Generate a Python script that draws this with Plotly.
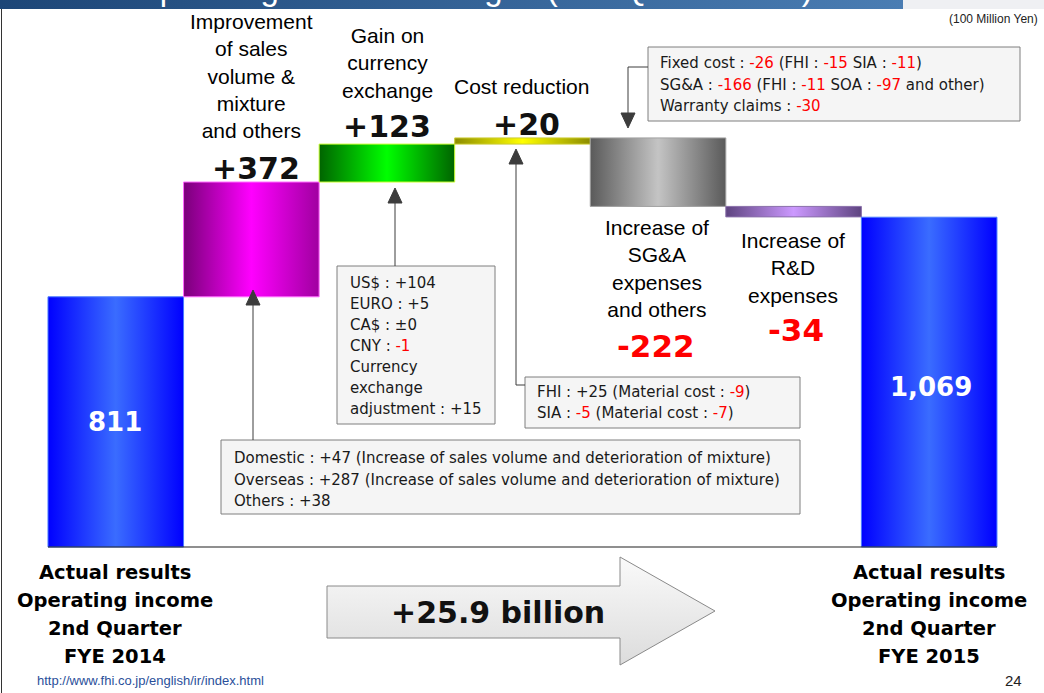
import plotly.graph_objects as go

W, H = 1044, 693

# ---------------- data ----------------
categories = ["Actual results 2Q FYE 2014", "Sales volume & mixture", "Currency exchange",
              "Cost reduction", "SG&A and others", "R&D expenses", "Actual results 2Q FYE 2015"]
values = [811, 372, 123, 20, -222, -34, 1069]
kinds = ["total", "relative", "relative", "relative", "relative", "relative", "total"]
value_labels = ["811", "+372", "+123", "+20", "-222", "-34", "1,069"]
driver_labels = ["",
                 "Improvement<br>of sales<br>volume &<br>mixture<br>and others",
                 "Gain on<br>currency<br>exchange",
                 "Cost reduction",
                 "Increase of<br>SG&A<br>expenses<br>and others",
                 "Increase of<br>R&D<br>expenses",
                 ""]
total_change_label = "+25.9 billion"
period_labels = [["Actual results", "Operating income", "2nd Quarter", "FYE 2014"],
                 ["Actual results", "Operating income", "2nd Quarter", "FYE 2015"]]

# ---------------- styles ----------------
bar_gradients = [
    ["#0000ff", "#3a6cff", "#0000ff"],
    ["#7a007a", "#ff00ff", "#a000a0"],
    ["#006400", "#00ff00", "#006400"],
    ["#8c8c00", "#ffff00", "#8c8c00"],
    ["#5a5a5a", "#c4c4c4", "#5a5a5a"],
    ["#5e4480", "#cc99ff", "#5e4480"],
    ["#0000ff", "#3a6cff", "#0000ff"],
]
bar_borders = ["#4a7cff", "#ff66ff", "#ccff33", "#cccc33", "#a0a0a0", "#8a70aa", "#4a7cff"]

X0, X1 = -0.854, 6.847
Y0, Y1 = -473.3, 1773.1


def dx(px):
    return X0 + px / W * (X1 - X0)


def dy(py):
    return Y1 - py / H * (Y1 - Y0)


def paper_x(px):
    return px / W


def paper_y(py):
    return 1 - py / H


fig = go.Figure()

# title bar (partially cut off in the reference)
fig.add_trace(go.Scatter(
    x=[dx(0), dx(903), dx(903), dx(0), dx(0)],
    y=[dy(0), dy(0), dy(9), dy(9), dy(0)],
    fill="toself", mode="lines", line=dict(width=0),
    fillgradient=dict(type="horizontal", colorscale=[[0, "#1d4677"], [1, "#4a7db3"]]),
    hoverinfo="skip", showlegend=False))
fig.add_trace(go.Scatter(
    x=[dx(903), dx(1044), dx(1044), dx(903), dx(903)],
    y=[dy(0), dy(0), dy(9), dy(9), dy(0)],
    fill="toself", mode="lines", line=dict(width=0), fillcolor="#eff0f3",
    hoverinfo="skip", showlegend=False))

# ---------------- waterfall bars ----------------
running = 0
for i, (v, k) in enumerate(zip(values, kinds)):
    if k == "total":
        base, top = 0, v
        running = v
    else:
        base, top = running, running + v
        running = top
    lo, hi = min(base, top), max(base, top)
    g = bar_gradients[i]
    fig.add_trace(go.Scatter(
        x=[i - 0.5, i + 0.5, i + 0.5, i - 0.5, i - 0.5],
        y=[lo, lo, hi, hi, lo],
        fill="toself", mode="lines",
        line=dict(color=bar_borders[i], width=1),
        fillgradient=dict(type="horizontal", colorscale=[[0, g[0]], [0.5, g[1]], [1, g[2]]]),
        name=categories[i], hoverinfo="skip", showlegend=False))

shapes = []
# baseline
shapes.append(dict(type="line", xref="x", yref="y", x0=-0.5, x1=len(values) - 0.5, y0=0, y1=0,
                   line=dict(color="#202020", width=1.2)))
# slide left border
shapes.append(dict(type="line", xref="paper", yref="paper", x0=paper_x(1.5), x1=paper_x(1.5),
                   y0=paper_y(9), y1=paper_y(693), line=dict(color="#333333", width=1)))

# big arrow
ax_pts = [(327, 586), (620, 586), (620, 557), (715, 611), (620, 665), (620, 638), (327, 638), (327, 586)]
fig.add_trace(go.Scatter(
    x=[dx(p[0]) for p in ax_pts], y=[dy(p[1]) for p in ax_pts],
    fill="toself", mode="lines", line=dict(color="#8a8a8a", width=1),
    fillgradient=dict(type="vertical", colorscale=[[0, "#dcdcdc"], [1, "#fafafa"]]),
    hoverinfo="skip", showlegend=False))

# callout boxes
boxes = [(648, 47, 1020, 121), (337, 266, 495, 424), (525, 377, 800, 428), (221, 440, 800, 514)]
for (x0, y0, x1, y1) in boxes:
    shapes.append(dict(type="rect", xref="paper", yref="paper",
                       x0=paper_x(x0), x1=paper_x(x1), y0=paper_y(y1), y1=paper_y(y0),
                       fillcolor="#f5f5f5", line=dict(color="#7f7f7f", width=1), layer="above"))

ARROW = "#3c3c3c"


def seg(pts):
    for (a, b) in zip(pts[:-1], pts[1:]):
        shapes.append(dict(type="line", xref="paper", yref="paper",
                           x0=paper_x(a[0]), y0=paper_y(a[1]), x1=paper_x(b[0]), y1=paper_y(b[1]),
                           line=dict(color=ARROW, width=1), layer="above"))


def tri(tip_x, tip_y, base_y, hw=7):
    path = "M {} {} L {} {} L {} {} Z".format(
        paper_x(tip_x), paper_y(tip_y), paper_x(tip_x - hw), paper_y(base_y),
        paper_x(tip_x + hw), paper_y(base_y))
    shapes.append(dict(type="path", xref="paper", yref="paper", path=path,
                       fillcolor=ARROW, line=dict(color=ARROW, width=1), layer="above"))


# fixed cost box -> SG&A bar (pointing down)
seg([(648, 67), (628, 67), (628, 114)])
tri(628, 128, 113)
# currency box -> green bar
seg([(395, 266), (395, 202)])
tri(395, 188, 203)
# cost box -> yellow bar
seg([(525, 385), (516, 385), (516, 163)])
tri(516, 149, 164)
# volume box -> magenta bar
seg([(253, 440), (253, 304)])
tri(253, 290, 305)

annotations = []


def txt(text, x, y, size, color="#000000", family="Liberation Sans", bold=False,
        xanchor="center", yanchor="middle", align="center"):
    if bold:
        text = "<b>" + text + "</b>"
    annotations.append(dict(text=text, x=paper_x(x), y=paper_y(y), xref="paper", yref="paper",
                            xanchor=xanchor, yanchor=yanchor, align=align, showarrow=False,
                            font=dict(size=size, color=color, family=family)))


# title (only its lower edge is visible in the reference)
txt("Operating Income Changes (2nd Quarter YoY)", 132, 9, 33, "#ffffff", "Liberation Sans",
    xanchor="left", yanchor="bottom")

txt("(100 Million Yen)", 1040, 19, 12, "#222222", "Liberation Sans", xanchor="right")

# driver labels (positions per bar)
drv_pos = {1: (251, 76), 2: (387, 63), 3: (521, 87), 4: (657, 268), 5: (793, 268)}
for i, (x, y) in drv_pos.items():
    txt(driver_labels[i], x, y, 21, "#000000", "Liberation Sans")

# value labels
val_pos = [(115, 422, "#ffffff", 26), (256, 168, "#111111", 30), (387, 127, "#111111", 30),
           (526, 124, "#111111", 30), (656, 346, "#ff0000", 31), (796, 330, "#ff0000", 31),
           (931, 387, "#ffffff", 26)]
for lab, (x, y, c, s) in zip(value_labels, val_pos):
    txt(lab, x, y, s, c, "DejaVu Sans", bold=True)

# period labels
for lines, x in zip(period_labels, [115, 929]):
    for j, line in enumerate(lines):
        txt(line, x, 572 + 28 * j, 19.5, "#000000", "DejaVu Sans", bold=True)

txt(total_change_label, 498, 612, 30, "#111111", "DejaVu Sans", bold=True)


def R(s):
    return '<span style="color:#ff0000">' + s + '</span>'


callouts = [
    (658, [63, 85, 106], [
        "Fixed cost : " + R("-26") + " (FHI : " + R("-15") + " SIA : " + R("-11") + ")",
        "SG&A : " + R("-166") + " (FHI : " + R("-11") + " SOA : " + R("-97") + " and other)",
        "Warranty claims : " + R("-30"),
    ]),
    (348, [283, 304, 325, 346, 367, 388, 409], [
        "US$ : +104", "EURO : +5", "CA$ : ±0", "CNY : " + R("-1"),
        "Currency", "exchange", "adjustment : +15",
    ]),
    (535, [392, 413], [
        "FHI : +25 (Material cost : " + R("-9") + ")",
        "SIA : " + R("-5") + " (Material cost : " + R("-7") + ")",
    ]),
    (232, [458, 480, 501], [
        "Domestic : +47 (Increase of sales volume and deterioration of mixture)",
        "Overseas : +287 (Increase of sales volume and deterioration of mixture)",
        "Others : +38",
    ]),
]
for x, ys, lines in callouts:
    for y, line in zip(ys, lines):
        txt(line, x, y, 15, "#1a1a1a", "DejaVu Sans", xanchor="left", align="left")

# footer
txt("http://www.fhi.co.jp/english/ir/index.html", 35, 680, 13, "#2a4f9a", "Liberation Sans",
    xanchor="left")
txt("24", 1013, 680, 15, "#222222", "Liberation Sans")

fig.update_layout(
    width=W, height=H,
    margin=dict(l=0, r=0, t=0, b=0),
    paper_bgcolor="#ffffff", plot_bgcolor="#ffffff",
    xaxis=dict(range=[X0, X1], visible=False, fixedrange=True),
    yaxis=dict(range=[Y0, Y1], visible=False, fixedrange=True),
    shapes=shapes, annotations=annotations, showlegend=False,
)

fig.write_html("out.html")
